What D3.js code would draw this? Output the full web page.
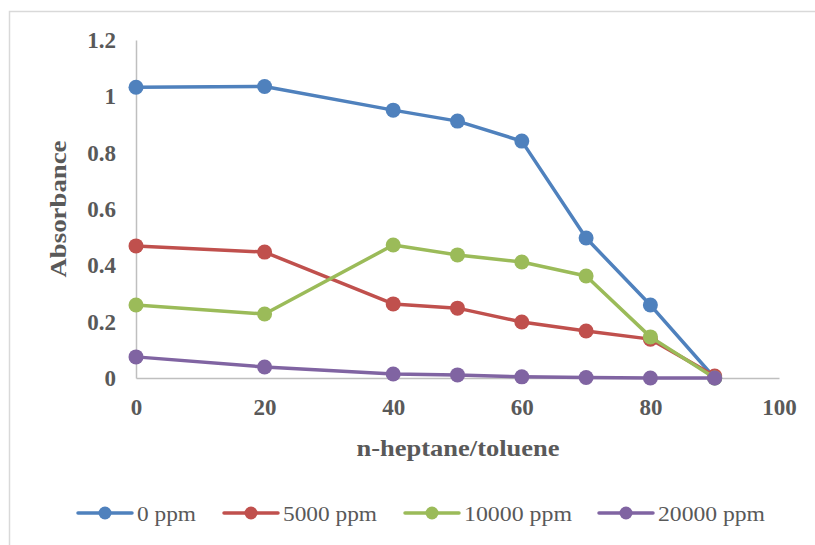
<!DOCTYPE html>
<html>
<head>
<meta charset="utf-8">
<script src="https://cdn.jsdelivr.net/npm/d3@7"></script>
<style>
  body { margin: 0; background: #fff; }
  svg { display: block; }
</style>
</head>
<body>
<svg id="chart" width="815" height="545"></svg>
<script>
// Heptane fraction in the n-heptane/toluene mixture (%)
const ratios = [0, 20, 40, 50, 60, 70, 80, 90];
const seriesNames = ["0 ppm", "5000 ppm", "10000 ppm", "20000 ppm"];
const ppm0     = [1.032, 1.035, 0.951, 0.912, 0.841, 0.497, 0.259, 0.0];
const ppm5000  = [0.469, 0.447, 0.263, 0.248, 0.199, 0.167, 0.138, 0.007];
const ppm10000 = [0.259, 0.227, 0.472, 0.437, 0.412, 0.362, 0.146, 0.0];
const ppm20000 = [0.075, 0.039, 0.014, 0.011, 0.004, 0.002, 0.0, 0.0];
const xTicks = [0, 20, 40, 60, 80, 100];
const yTicks = [0, 0.2, 0.4, 0.6, 0.8, 1, 1.2];
const colors = ["#4f81bd", "#c0504d", "#9bbb59", "#8064a2"];

const allSeries = [ppm0, ppm5000, ppm10000, ppm20000];

const svg = d3.select("#chart");
const font = "'Liberation Serif', 'Times New Roman', serif";
const textColor = "#595959";

// chart frame
svg.append("rect")
  .attr("x", 9.5).attr("y", 11.5)
  .attr("width", 830).attr("height", 560)
  .attr("fill", "none").attr("stroke", "#d9d9d9").attr("stroke-width", 1.5);

const x = d3.scaleLinear().domain([0, 100]).range([136, 779]);
const y = d3.scaleLinear().domain([0, 1.2]).range([378, 40]);

// axes
const xAxis = svg.append("g")
  .attr("transform", `translate(0,${y(0)})`)
  .call(d3.axisBottom(x).tickValues(xTicks).tickSize(0).tickPadding(21).tickFormat(d3.format("d")));
const yAxis = svg.append("g")
  .attr("transform", `translate(${x(0)},0)`)
  .call(d3.axisLeft(y).tickValues(yTicks).tickSize(0).tickPadding(20).tickFormat(d => String(+d.toFixed(1))));

[xAxis, yAxis].forEach(g => {
  g.select(".domain").attr("stroke", "#bfbfbf").attr("stroke-width", 1.5);
  g.selectAll("text")
    .attr("font-family", font).attr("font-weight", "bold")
    .attr("font-size", 23).attr("fill", textColor);
});

// axis titles
svg.append("text")
  .attr("x", 458).attr("y", 456)
  .attr("text-anchor", "middle")
  .attr("font-family", font).attr("font-weight", "bold").attr("font-size", 24)
  .attr("textLength", 203).attr("lengthAdjust", "spacingAndGlyphs")
  .attr("fill", textColor)
  .text("n-heptane/toluene");
svg.append("text")
  .attr("transform", "translate(66,209) rotate(-90)")
  .attr("text-anchor", "middle")
  .attr("font-family", font).attr("font-weight", "bold").attr("font-size", 24)
  .attr("textLength", 137).attr("lengthAdjust", "spacingAndGlyphs")
  .attr("fill", textColor)
  .text("Absorbance");

// series lines and markers
const line = d3.line().x((d, i) => x(ratios[i])).y(d => y(d));
allSeries.forEach((vals, s) => {
  const g = svg.append("g");
  g.append("path")
    .datum(vals)
    .attr("d", line)
    .attr("fill", "none")
    .attr("stroke", colors[s])
    .attr("stroke-width", 3.5)
    .attr("stroke-linejoin", "round");
  g.selectAll("circle")
    .data(vals)
    .join("circle")
    .attr("cx", (d, i) => x(ratios[i]))
    .attr("cy", d => y(d))
    .attr("r", 7.5)
    .attr("fill", colors[s]);
});

// legend
const legendX = [78, 224, 405, 599];
const legendTextLen = [59, 94, 108, 107];
const legend = svg.append("g");
seriesNames.forEach((name, s) => {
  const lx = legendX[s];
  const ly = 513;
  legend.append("line")
    .attr("x1", lx).attr("x2", lx + 54)
    .attr("y1", ly).attr("y2", ly)
    .attr("stroke", colors[s]).attr("stroke-width", 3.5)
    .attr("stroke-linecap", "round");
  legend.append("circle")
    .attr("cx", lx + 27).attr("cy", ly).attr("r", 6.5)
    .attr("fill", colors[s]);
  legend.append("text")
    .attr("x", lx + 59).attr("y", ly + 8)
    .attr("font-family", font).attr("font-size", 22)
    .attr("textLength", legendTextLen[s]).attr("lengthAdjust", "spacingAndGlyphs")
    .attr("fill", textColor)
    .text(name);
});
</script>
</body>
</html>
